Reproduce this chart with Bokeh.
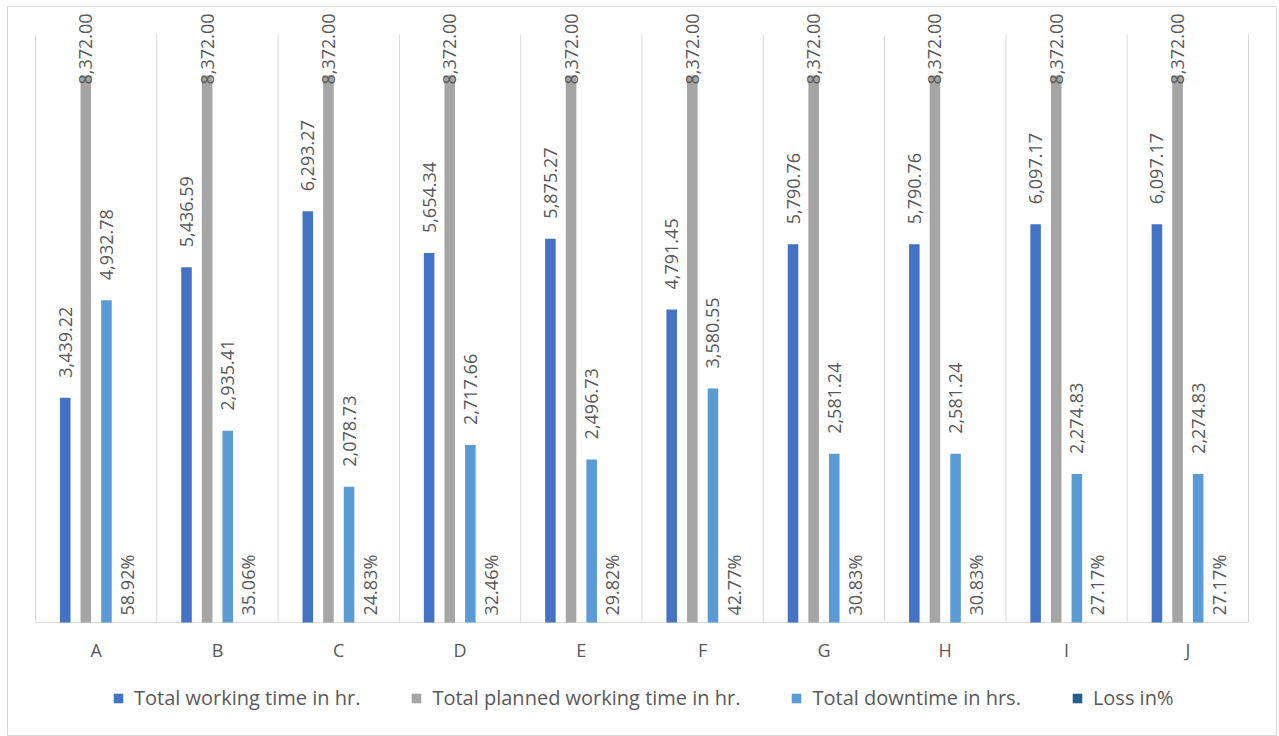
import math

from bokeh.core.properties import value
from bokeh.embed import file_html
from bokeh.models import ColumnDataSource, Legend, LegendItem, Range1d
from bokeh.plotting import figure
from bokeh.resources import INLINE

# ---- data -------------------------------------------------------------
categories = ["A", "B", "C", "D", "E", "F", "G", "H", "I", "J"]
working_hours = [3439.22, 5436.59, 6293.27, 5654.34, 5875.27,
                 4791.45, 5790.76, 5790.76, 6097.17, 6097.17]
planned_hours = [8372.00, 8372.00, 8372.00, 8372.00, 8372.00,
                 8372.00, 8372.00, 8372.00, 8372.00, 8372.00]
downtime_hours = [4932.78, 2935.41, 2078.73, 2717.66, 2496.73,
                  3580.55, 2581.24, 2581.24, 2274.83, 2274.83]
loss_share = [0.5892, 0.3506, 0.2483, 0.3246, 0.2982,
              0.4277, 0.3083, 0.3083, 0.2717, 0.2717]
series_names = ["Total working time in hr.",
                "Total planned working time in hr.",
                "Total downtime in hrs.",
                "Loss in%"]
Y_MAX = 9000

# ---- layout / style ---------------------------------------------------
W, H = 1279, 736
FRAME_L, FRAME_R, FRAME_T, FRAME_B = 7, 1276, 6, 736      # chart border
PLOT_L, PLOT_R, PLOT_T, PLOT_B = 35, 1248, 34, 622         # plot area
COLORS = ["#4472C4", "#A5A5A5", "#5B9BD5", "#255E91"]
TEXT_COLOR = "#595959"
GRID_COLOR = "#D9D9D9"
FONT = "Open Sans"
BAR_STEP = 0.17
BAR_WIDTH = 0.087
LABEL_OFFSETS = [-20, 9, -20, -7]   # screen px from the bar end

n = len(categories)
x_per = (PLOT_R - PLOT_L) / n
y_per = (PLOT_B - PLOT_T) / Y_MAX
x_range = Range1d(-(PLOT_L - FRAME_L) / x_per, n + (FRAME_R - PLOT_R) / x_per)
y_range = Range1d(-(FRAME_B - PLOT_B) / y_per, Y_MAX + (PLOT_T - FRAME_T) / y_per)

p = figure(width=W, height=H, title=None,
           x_range=x_range, y_range=y_range,
           x_axis_location=None, y_axis_location=None,
           min_border_left=FRAME_L, min_border_right=W - FRAME_R,
           min_border_top=FRAME_T, min_border_bottom=H - FRAME_B,
           output_backend="svg", toolbar_location=None)
p.grid.visible = False
p.background_fill_color = "white"
p.border_fill_color = "white"
p.outline_line_color = GRID_COLOR
p.outline_line_width = 1

# category separators and base line
bounds = list(range(n + 1))
p.segment(x0=bounds, y0=[0] * len(bounds), x1=bounds, y1=[Y_MAX] * len(bounds),
          line_color=GRID_COLOR, line_width=1)
p.segment(x0=[0], y0=[0], x1=[n], y1=[0], line_color=GRID_COLOR, line_width=1)

# category labels
p.text(x=[i + 0.5 for i in range(n)], y=[0] * n, text=categories,
       y_offset=27, text_align="center", text_baseline="middle",
       text_font=value(FONT), text_font_size="18px", text_color=TEXT_COLOR)

# bars + rotated value labels
all_series = [working_hours, planned_hours, downtime_hours, loss_share]
legend_items = []
for k, (vals, name, color) in enumerate(zip(all_series, series_names, COLORS)):
    xs = [i + 0.5 + (k - 1.5) * BAR_STEP for i in range(n)]
    if k == 3:
        labels = [f"{v:.2%}" for v in vals]
    else:
        labels = [f"{v:,.2f}" for v in vals]
    src = ColumnDataSource(dict(x=xs, top=vals, label=labels))
    r = p.vbar(x="x", top="top", width=BAR_WIDTH, source=src,
               fill_color=color, line_color=None)
    p.text(x="x", y="top", text="label", source=src,
           angle=math.pi / 2, y_offset=LABEL_OFFSETS[k],
           text_align="left", text_baseline="middle",
           text_font=value(FONT), text_font_size="18px", text_color=TEXT_COLOR)
    legend_items.append(LegendItem(label=name, renderers=[r]))

legend = Legend(items=legend_items, orientation="horizontal",
                location=(105, 25), padding=0, margin=0, spacing=50,
                label_standoff=10, glyph_width=12, glyph_height=12,
                label_text_font=FONT, label_text_font_size="20px",
                label_text_color=TEXT_COLOR,
                border_line_color=None, background_fill_alpha=0)
p.add_layout(legend)

open("out.html", "w").write(file_html(p, INLINE))
